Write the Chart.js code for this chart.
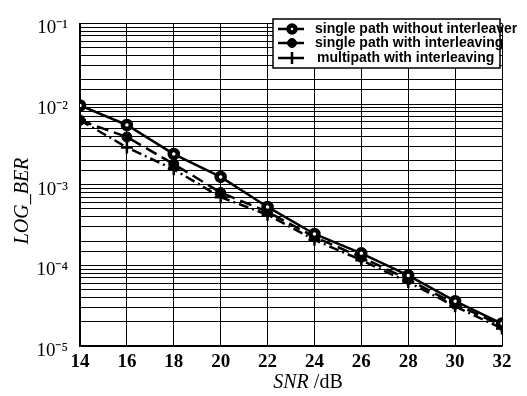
<!DOCTYPE html>
<html><head><meta charset="utf-8">
<script src="https://cdn.jsdelivr.net/npm/chart.js@4/dist/chart.umd.min.js"></script>
<style>html,body{margin:0;padding:0;background:#fff}#wrap{width:527px;height:396px}</style>
</head><body><div id="wrap"><canvas id="c" width="527" height="396"></canvas></div>
<script>
const snr = [14, 16, 18, 20, 22, 24, 26, 28, 30, 32];
const berNoInterleave = [9.6e-3, 5.5e-3, 2.4e-3, 1.25e-3, 5.3e-4, 2.45e-4, 1.41e-4, 7.5e-5, 3.6e-5, 1.9e-5];
const berInterleave = [6.3e-3, 3.9e-3, 1.8e-3, 8.0e-4, 4.6e-4, 2.25e-4, 1.26e-4, 6.7e-5, 3.3e-5, 1.8e-5];
const berMultipath = [6.3e-3, 2.9e-3, 1.55e-3, 7.0e-4, 4.25e-4, 2.07e-4, 1.16e-4, 6.2e-5, 3.1e-5, 1.65e-5];
const seriesNames = ['single path without interleaver', 'single path with interleaving', 'multipath with interleaving'];
const xTicks = [14, 16, 18, 20, 22, 24, 26, 28, 30, 32];
const sup = {'-':'\u207B','0':'\u2070','1':'\u00B9','2':'\u00B2','3':'\u00B3','4':'\u2074','5':'\u2075','6':'\u2076','7':'\u2077','8':'\u2078','9':'\u2079'};

const pts = arr => snr.map((x, i) => ({x: x, y: arr[i]}));

const datasets = [
  {label: seriesNames[0], data: pts(berNoInterleave), borderColor:'#000', backgroundColor:'#fff', borderWidth:2.5,
   pointStyle:'circle', pointRadius:4, pointBorderWidth:4.5, pointBorderColor:'#000', pointBackgroundColor:'#fff', borderDash:[]},
  {label: seriesNames[1], data: pts(berInterleave), borderColor:'#000', backgroundColor:'#000', borderWidth:2.5,
   pointStyle:'circle', pointRadius:5, pointBorderWidth:1, pointBackgroundColor:'#000', borderDash:[12,6]},
  {label: seriesNames[2], data: pts(berMultipath), borderColor:'#000', backgroundColor:'#000', borderWidth:2.5,
   pointStyle:'cross', pointRadius:6, pointBorderWidth:2.5, borderDash:[10,4,2,4]}
];

const legendPlugin = {
  id: 'boxLegend',
  afterDraw(chart) {
    const ctx = chart.ctx;
    const x0 = 273, y0 = 19, x1 = 500, y1 = 68;
    ctx.save();
    ctx.fillStyle = '#fff';
    ctx.fillRect(x0, y0, x1 - x0, y1 - y0);
    ctx.strokeStyle = '#000'; ctx.lineWidth = 1.5;
    ctx.strokeRect(x0, y0, x1 - x0, y1 - y0);
    const rows = [29, 43, 58];
    chart.data.datasets.forEach((ds, i) => {
      const y = rows[i];
      ctx.strokeStyle = '#000'; ctx.lineWidth = 2.5;
      ctx.setLineDash([]);
      ctx.beginPath(); ctx.moveTo(278, y); ctx.lineTo(304, y); ctx.stroke();
      if (ds.pointStyle === 'circle') {
        ctx.fillStyle = ds.pointBackgroundColor || '#000';
        ctx.lineWidth = ds.pointBorderWidth;
        ctx.beginPath(); ctx.arc(292, y, ds.pointRadius - 0.5, 0, Math.PI*2); ctx.fill(); ctx.stroke();
      } else {
        ctx.lineWidth = ds.pointBorderWidth;
        ctx.beginPath(); ctx.moveTo(292, y - 6); ctx.lineTo(292, y + 6); ctx.stroke();
      }
      ctx.fillStyle = '#000';
      ctx.font = 'bold 14px "Liberation Sans", Arial, sans-serif';
      ctx.textBaseline = 'middle'; ctx.textAlign = 'left';
      ctx.fillText(ds.label, i === 2 ? 317 : 315, y);
    });
    ctx.restore();
  }
};

const titlePlugin = {
  id: 'axisTitles',
  afterDraw(chart) {
    const ctx = chart.ctx;
    ctx.save();
    ctx.fillStyle = '#000';
    ctx.textBaseline = 'middle';
    const fI = 'italic 20px "Liberation Serif", "Times New Roman", serif';
    const fR = '20px "Liberation Serif", "Times New Roman", serif';
    ctx.font = fI; const w1 = ctx.measureText('SNR').width;
    ctx.font = fR; const w2 = ctx.measureText(' /dB').width;
    let sx = 308 - (w1 + w2) / 2;
    ctx.textAlign = 'left';
    ctx.font = fI; ctx.fillText('SNR', sx, 383);
    ctx.font = fR; ctx.fillText(' /dB', sx + w1, 383);
    ctx.translate(23, 201);
    ctx.rotate(-Math.PI / 2);
    ctx.textAlign = 'center';
    ctx.font = fI;
    ctx.fillText('LOG_BER', 0, 0);
    ctx.restore();
  }
};

new Chart(document.getElementById('c'), {
  type: 'line',
  data: {datasets},
  options: {
    responsive: false, animation: false,
    layout: {padding: {top: 12, right: 25, left: 0, bottom: 0}},
    plugins: {legend: {display: false}, tooltip: {enabled: false}},
    scales: {
      x: {
        type: 'linear', min: 14, max: 32,
        afterBuildTicks: s => { s.ticks = xTicks.map(v => ({value: v})); },
        afterFit: s => { s.height = 50; },
        grid: {color: '#000', lineWidth: 1, drawTicks: false},
        border: {color: '#000', width: 1.5},
        ticks: {color: '#000', padding: 5, font: {family: '"Liberation Serif", "Times New Roman", serif', size: 19, weight: 'bold'}}
      },
      y: {
        type: 'logarithmic', min: 1e-5, max: 1e-1,
        afterFit: s => { s.width = 80; },
        grid: {color: '#000', lineWidth: 1, drawTicks: false},
        border: {color: '#000', width: 1.5},
        ticks: {
          color: '#000', padding: 12, autoSkip: false, labelOffset: 5,
          font: {family: '"Liberation Serif", "Times New Roman", serif', size: 19},
          callback: v => {
            const e = Math.log10(v);
            if (Math.abs(e - Math.round(e)) > 1e-6) return '';
            return '10' + String(Math.round(e)).split('').map(c => sup[c]).join('');
          }
        }
      }
    }
  },
  plugins: [legendPlugin, titlePlugin]
});
</script></body></html>
